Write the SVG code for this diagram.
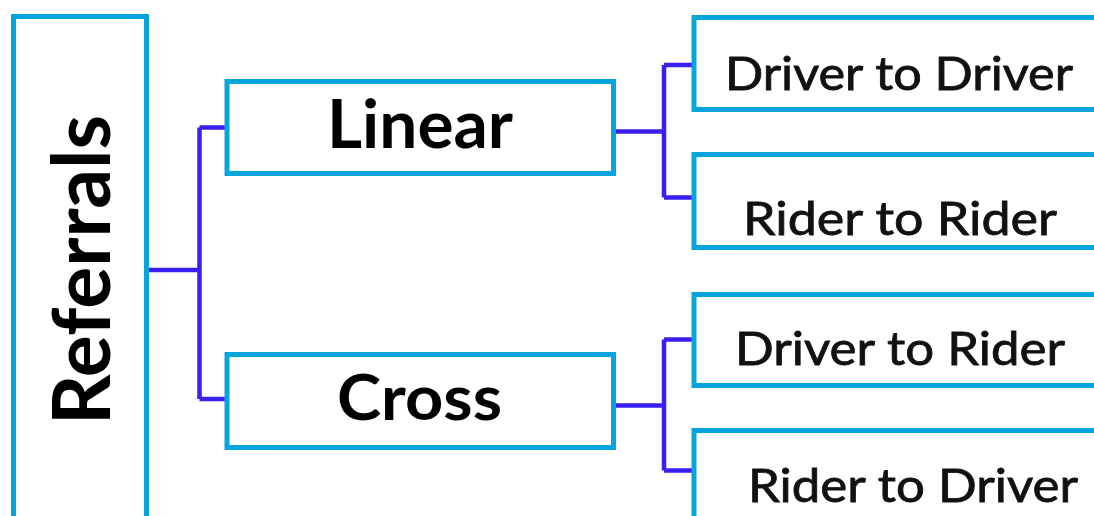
<svg xmlns="http://www.w3.org/2000/svg" width="1094" height="516" viewBox="0 0 1094 516">
  <style>
    .box { fill: #ffffff; stroke: #06a5dd; stroke-width: 5; }
    .link { fill: none; stroke: #3a1ff2; stroke-width: 4.5; stroke-linejoin: round; }
    .big { font-family: "Lato", "Open Sans", sans-serif; font-weight: 700; fill: #000000; }
    .leaf { font-family: "Lato", "Open Sans", sans-serif; font-weight: 400; font-size: 46px; fill: #111111; stroke: #111111; stroke-width: 0.8; }
  </style>
  <rect width="1094" height="516" fill="#ffffff"/>

  <g id="connectors">
    <path class="link" d="M149 270 H199.5 M199.5 127.5 V399 M199.5 127.5 H226 M199.5 399 H226"/>
    <path class="link" d="M616 131.5 H664 M664 65 V197.5 M664 65 H692 M664 197.5 H692"/>
    <path class="link" d="M616 405.5 H664 M664 339.5 V470.5 M664 339.5 H692 M664 470.5 H692"/>
  </g>

  <g id="referrals">
    <rect class="box" x="13.5" y="16.5" width="133" height="520"/>
    <text class="big" font-size="80" transform="translate(110 425) rotate(-90)" textLength="310" lengthAdjust="spacingAndGlyphs">Referrals</text>
  </g>

  <g id="linear">
    <rect class="box" x="227" y="81.5" width="386.5" height="92"/>
    <text class="big" font-size="67" x="327" y="148" textLength="186" lengthAdjust="spacingAndGlyphs">Linear</text>
  </g>

  <g id="cross">
    <rect class="box" x="227" y="354.5" width="386.5" height="93"/>
    <text class="big" font-size="63" x="337" y="420" textLength="165" lengthAdjust="spacingAndGlyphs">Cross</text>
  </g>

  <g id="driver-to-driver">
    <rect class="box" x="694" y="17.5" width="420" height="92"/>
    <text class="leaf" x="725" y="90" textLength="348" lengthAdjust="spacingAndGlyphs">Driver to Driver</text>
  </g>

  <g id="rider-to-rider">
    <rect class="box" x="694" y="154.5" width="420" height="93"/>
    <text class="leaf" x="743" y="235" textLength="314" lengthAdjust="spacingAndGlyphs">Rider to Rider</text>
  </g>

  <g id="driver-to-rider">
    <rect class="box" x="694" y="294.5" width="420" height="91"/>
    <text class="leaf" x="735" y="365" textLength="330" lengthAdjust="spacingAndGlyphs">Driver to Rider</text>
  </g>

  <g id="rider-to-driver">
    <rect class="box" x="694" y="430.5" width="420" height="110"/>
    <text class="leaf" x="748" y="502" textLength="330" lengthAdjust="spacingAndGlyphs">Rider to Driver</text>
  </g>
</svg>
